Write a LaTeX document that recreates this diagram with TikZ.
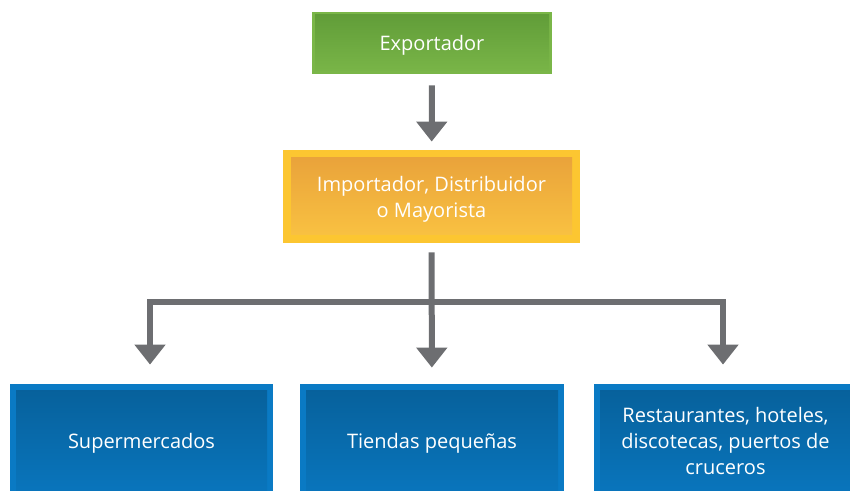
\documentclass[tikz,border=0pt]{standalone}
\usepackage{fontspec}
\setmainfont{Open Sans}
\usepackage{xcolor}
\usepackage{tikz}
\usetikzlibrary{arrows.meta}
\definecolor{exgreen}{RGB}{122,182,72}
\definecolor{exgreentop}{RGB}{96,156,56}
\definecolor{imyellow}{RGB}{252,198,49}
\definecolor{imyellowtop}{RGB}{232,160,58}
\definecolor{imyellowbot}{RGB}{250,196,66}
\definecolor{sellblue}{RGB}{10,122,196}
\definecolor{sellbluetop}{RGB}{7,96,154}
\definecolor{sellbluebot}{RGB}{9,118,190}
\definecolor{arrowgray}{RGB}{109,110,113}

\begin{document}
\begin{tikzpicture}[x=0.5pt,y=-0.5pt,
  chainbox/.style={rectangle, text=white, align=center, inner sep=0pt,
    text depth=0pt, font=\fontsize{10}{13}\selectfont},
  innershade/.style n args={3}{path picture={
    \shade[top color=#1, bottom color=#2]
      ([xshift=#3,yshift=-#3]path picture bounding box.north west) rectangle
      ([xshift=-#3,yshift=#3]path picture bounding box.south east);}},
  flow/.style={draw=arrowgray, line width=3pt, -{Triangle[width=15pt,length=10pt]}}]
\clip (0,0) rectangle (850,491);

\node[chainbox, fill=exgreen, innershade={exgreentop}{exgreen}{1.5pt},
  minimum width=120pt, minimum height=31pt] (exp) at (432,43) {Exportador};
\node[chainbox, fill=imyellow, innershade={imyellowtop}{imyellowbot}{4pt},
  minimum width=148.5pt, minimum height=46.5pt] (imp) at (431.5,196.5)
  {Importador, Distribuidor\\o Mayorista};
\node[chainbox, fill=sellblue, innershade={sellbluetop}{sellbluebot}{3pt},
  minimum width=131.5pt, minimum height=57pt] (sup) at (141.5,441) {Supermercados};
\node[chainbox, fill=sellblue, innershade={sellbluetop}{sellbluebot}{3pt},
  minimum width=132pt, minimum height=57pt] (tie) at (432,441) {Tiendas pequeñas};
\node[chainbox, fill=sellblue, innershade={sellbluetop}{sellbluebot}{3pt},
  minimum width=131.5pt, minimum height=57pt] (res) at (725.5,441)
  {Restaurantes, hoteles,\\discotecas, puertos de\\cruceros};

\coordinate (br) at (432,302);

\draw[flow, shorten <=5.5pt, shorten >=4pt] (exp) -- (imp);
\draw[flow, shorten <=4.5pt, shorten >=8pt] (imp) -- (tie);
\draw[flow, shorten >=9.5pt] (br) -| ([xshift=4.25pt]sup.north);
\draw[flow, shorten >=9.5pt] (br) -| ([xshift=-1.25pt]res.north);
\end{tikzpicture}
\end{document}
